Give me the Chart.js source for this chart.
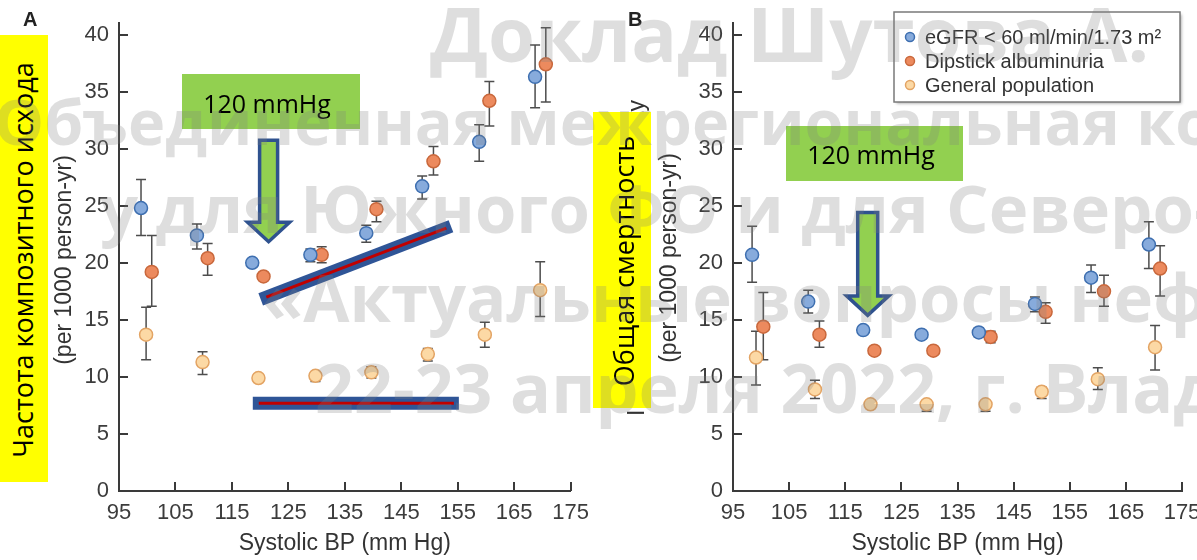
<!DOCTYPE html>
<html>
<head>
<meta charset="utf-8">
<script src="https://cdn.jsdelivr.net/npm/chart.js@4.4.0/dist/chart.umd.min.js"></script>
<style>
  body { margin: 0; background: #fff; }
  #wrap { position: relative; width: 1197px; height: 560px; overflow: hidden; background: #fff; }
  #chartA { position: absolute; left: 0; top: 0; }
  #chartB { position: absolute; left: 598px; top: 0; }
  #over { position: absolute; left: 0; top: 0; }
  .note { font-family: "Open Sans", sans-serif; fill: #000; }
  .wm text { font-family: "Open Sans", sans-serif; font-weight: 700; fill: rgba(128,128,128,0.26); }
</style>
</head>
<body>
<div id="wrap">
  <canvas id="chartA" width="598" height="560"></canvas>
  <canvas id="chartB" width="620" height="560"></canvas>
  <svg id="over" width="1197" height="560">
    <!-- жёлтые подписи осей -->
    <rect x="0" y="35" width="48" height="447" fill="#ffff00"/>
    <text class="note" font-size="27" text-anchor="middle" dominant-baseline="central"
          transform="translate(22,260) rotate(-90)">Частота композитного исхода</text>
    <rect x="593" y="112" width="58" height="296" fill="#ffff00"/>
    <text class="note" font-size="27" text-anchor="middle" dominant-baseline="central"
          transform="translate(623,261) rotate(-90)">Общая смертность</text>
    <!-- зелёные плашки -->
    <rect x="182" y="74" width="178" height="55" fill="#92d050"/>
    <text class="note" x="267" y="103" font-size="25" text-anchor="middle" dominant-baseline="central">120 mmHg</text>
    <rect x="786" y="126" width="177" height="55" fill="#92d050"/>
    <text class="note" x="871" y="154" font-size="25" text-anchor="middle" dominant-baseline="central">120 mmHg</text>
    <!-- буквы панелей -->
    <text x="23" y="26" font-family="Liberation Sans, Arial, sans-serif" font-weight="700" font-size="20" fill="#222">A</text>
    <text x="628" y="26" font-family="Liberation Sans, Arial, sans-serif" font-weight="700" font-size="20" fill="#222">B</text>
    <!-- водяной знак -->
    <g class="wm">
      <text x="430" y="62" font-size="76">Доклад Шутова А.</text>
      <text x="-6" y="145" font-size="63">Объединенная межрегиональная конференция</text>
      <text x="100" y="233" font-size="67">у для Южного ФО и для Северо-Кавказского ФО</text>
      <text x="262" y="322" font-size="67">«Актуальные вопросы нефрологии»</text>
      <text x="315" y="413" font-size="68">22-23 апреля 2022, г. Владикавказ</text>
    </g>
  </svg>
</div>
<script>
// ---------- данные ----------
const xTicks = [95, 105, 115, 125, 135, 145, 155, 165, 175];
const yTicks = [0, 5, 10, 15, 20, 25, 30, 35, 40];
const seriesNames = ["eGFR < 60 ml/min/1.73 m\u00b2", "Dipstick albuminuria", "General population"];

// A: композитный исход
const egfrA_x  = [98.9, 108.8, 118.6, 128.9, 138.8, 148.7, 158.8, 168.7];
const egfrA_y  = [24.8, 22.4, 20.0, 20.7, 22.6, 26.7, 30.6, 36.3];
const egfrA_lo = [22.4, 21.2, null, 20.1, 21.8, 25.6, 28.9, 33.6];
const egfrA_hi = [27.3, 23.4, null, 21.2, 23.3, 27.6, 32.1, 39.1];

const albA_x  = [100.8, 110.7, 120.6, 130.9, 140.6, 150.7, 160.6, 170.6];
const albA_y  = [19.2, 20.4, 18.8, 20.7, 24.7, 28.9, 34.2, 37.4];
const albA_lo = [16.2, 18.9, null, 20.0, 23.6, 27.7, 32.0, 34.1];
const albA_hi = [22.4, 21.7, null, 21.4, 25.4, 30.2, 35.9, 40.6];

const genA_x  = [99.8, 109.8, 119.7, 129.8, 139.7, 149.7, 159.8, 169.6];
const genA_y  = [13.7, 11.3, 9.9, 10.1, 10.4, 12.0, 13.7, 17.6];
const genA_lo = [11.5, 10.2, null, 9.6, 9.9, 11.4, 12.6, 15.3];
const genA_hi = [16.1, 12.2, null, 10.4, 10.9, 12.5, 14.8, 20.1];

// B: общая смертность
const egfrB_x  = [98.4, 108.4, 118.2, 128.6, 138.8, 148.8, 158.8, 169.1];
const egfrB_y  = [20.7, 16.6, 14.1, 13.7, 13.9, 16.4, 18.7, 21.6];
const egfrB_lo = [18.3, 15.6, null, null, 13.5, 15.7, 17.4, 19.5];
const egfrB_hi = [23.2, 17.6, null, null, 14.3, 17.0, 19.8, 23.6];

const albB_x  = [100.4, 110.4, 120.2, 130.7, 140.9, 150.7, 161.1, 171.1];
const albB_y  = [14.4, 13.7, 12.3, 12.3, 13.5, 15.7, 17.5, 19.5];
const albB_lo = [11.5, 12.6, null, 12.0, 13.0, 14.7, 16.2, 17.1];
const albB_hi = [17.4, 14.9, null, 12.6, 14.0, 16.5, 18.9, 21.5];

const genB_x  = [99.1, 109.6, 119.5, 129.5, 140.0, 150.0, 160.0, 170.2];
const genB_y  = [11.7, 8.9, 7.6, 7.6, 7.6, 8.7, 9.8, 12.6];
const genB_lo = [9.3, 8.1, null, 7.0, 7.0, 8.1, 8.9, 10.6];
const genB_hi = [14.0, 9.7, null, 7.6, 7.6, 9.1, 10.8, 14.5];

// ---------- стили ----------
const fills   = ["#87abdc", "#ec8a5e", "#fcd9a5"];
const strokes = ["#3e6fb0", "#c9683c", "#e3a464"];
const axisColor = "#3a3a3a";
const labelFont = "Liberation Sans, Arial, sans-serif";

function makeSet(k, xs, ys, lo, hi) {
	return {
		label: seriesNames[k],
		data: xs.map((x, i) => ({ x: x, y: ys[i] })),
		errLo: lo,
		errHi: hi,
		backgroundColor: fills[k],
		borderColor: strokes[k],
		pointRadius: 6.5,
		pointBorderWidth: 1.5,
		showLine: false,
	};
}

// усы погрешностей, рисуются под точками
const errorBars = {
	id: "errorBars",
	beforeDatasetsDraw(chart) {
		const ctx = chart.ctx, sx = chart.scales.x, sy = chart.scales.y;
		ctx.save();
		ctx.strokeStyle = "#4d4d4d";
		ctx.lineWidth = 1.5;
		chart.data.datasets.forEach(ds => {
			ds.data.forEach((p, i) => {
				const lo = ds.errLo[i], hi = ds.errHi[i];
				if (lo == null || hi == null) return;
				const px = sx.getPixelForValue(p.x);
				const y1 = sy.getPixelForValue(lo), y2 = sy.getPixelForValue(hi);
				ctx.beginPath();
				ctx.moveTo(px, y1); ctx.lineTo(px, y2);
				ctx.moveTo(px - 5, y1); ctx.lineTo(px + 5, y1);
				ctx.moveTo(px - 5, y2); ctx.lineTo(px + 5, y2);
				ctx.stroke();
			});
		});
		ctx.restore();
	}
};

// засечки внутрь области графика
const innerTicks = {
	id: "innerTicks",
	beforeDatasetsDraw(chart) {
		const ctx = chart.ctx, sx = chart.scales.x, sy = chart.scales.y, a = chart.chartArea;
		ctx.save();
		ctx.strokeStyle = axisColor;
		ctx.lineWidth = 2;
		ctx.beginPath();
		yTicks.forEach(v => {
			const py = Math.round(sy.getPixelForValue(v));
			ctx.moveTo(a.left, py); ctx.lineTo(a.left + 9, py);
		});
		xTicks.forEach(v => {
			const px = Math.round(sx.getPixelForValue(v));
			ctx.moveTo(px, a.bottom); ctx.lineTo(px, a.bottom - 9);
		});
		ctx.stroke();
		ctx.restore();
	}
};

// стрелка, полосы, подпись оси Y, легенда
function notes(cfg) {
	return {
		id: "notes",
		afterDatasetsDraw(chart) {
			const ctx = chart.ctx, sx = chart.scales.x, sy = chart.scales.y;
			ctx.save();
			// полосы тренда
			(cfg.bands || []).forEach(b => {
				const x1 = sx.getPixelForValue(b[0]), y1 = sy.getPixelForValue(b[1]);
				const x2 = sx.getPixelForValue(b[2]), y2 = sy.getPixelForValue(b[3]);
				const len = Math.hypot(x2 - x1, y2 - y1), ux = (x2 - x1) / len, uy = (y2 - y1) / len;
				ctx.lineCap = "butt";
				ctx.strokeStyle = "#2f5597";
				ctx.lineWidth = 13;
				ctx.beginPath(); ctx.moveTo(x1, y1); ctx.lineTo(x2, y2); ctx.stroke();
				ctx.strokeStyle = "#c00000";
				ctx.lineWidth = 3;
				ctx.beginPath(); ctx.moveTo(x1 + ux * 6, y1 + uy * 6); ctx.lineTo(x2 - ux * 5, y2 - uy * 5); ctx.stroke();
			});
			// стрелка вниз
			const ar = cfg.arrow;
			const cx = sx.getPixelForValue(ar.x), top = sy.getPixelForValue(ar.top);
			const neck = sy.getPixelForValue(ar.neck), tip = sy.getPixelForValue(ar.tip);
			ctx.beginPath();
			ctx.moveTo(cx - ar.sw, top); ctx.lineTo(cx + ar.sw, top); ctx.lineTo(cx + ar.sw, neck);
			ctx.lineTo(cx + 21, neck); ctx.lineTo(cx, tip); ctx.lineTo(cx - 21, neck);
			ctx.lineTo(cx - ar.sw, neck); ctx.closePath();
			ctx.fillStyle = "#92d050";
			ctx.fill();
			ctx.strokeStyle = "#2f528f";
			ctx.lineWidth = 3.5;
			ctx.lineJoin = "miter";
			ctx.stroke();
			// подпись оси Y в две строки
			ctx.fillStyle = "#333";
			ctx.font = "23px " + labelFont;
			ctx.textAlign = "center";
			ctx.textBaseline = "middle";
			cfg.yTitle.forEach((t, i) => {
				ctx.save();
				ctx.translate(cfg.yTitleX[i], cfg.yTitleY);
				ctx.rotate(-Math.PI / 2);
				ctx.fillText(t, 0, 0);
				ctx.restore();
			});
			// легенда
			if (cfg.legend) {
				const L = cfg.legend;
				ctx.shadowColor = "rgba(0,0,0,0.35)";
				ctx.shadowBlur = 3;
				ctx.shadowOffsetX = 1.5;
				ctx.shadowOffsetY = 1.5;
				ctx.fillStyle = "#fff";
				ctx.fillRect(L.x, L.y, L.w, L.h);
				ctx.shadowColor = "transparent";
				ctx.strokeStyle = "#7a7a7a";
				ctx.lineWidth = 1.5;
				ctx.strokeRect(L.x, L.y, L.w, L.h);
				ctx.font = "20px " + labelFont;
				ctx.textAlign = "left";
				chart.data.datasets.forEach((ds, i) => {
					const yy = L.y + 25 + i * 24;
					ctx.beginPath();
					ctx.arc(L.x + 16, yy, 4.5, 0, Math.PI * 2);
					ctx.fillStyle = ds.backgroundColor;
					ctx.fill();
					ctx.strokeStyle = ds.borderColor;
					ctx.lineWidth = 1.5;
					ctx.stroke();
					ctx.fillStyle = "#333";
					ctx.fillText(ds.label, L.x + 31, yy + 1);
				});
			}
			ctx.restore();
		}
	};
}

function makeChart(id, datasets, axisW, padRight, cfg) {
	return new Chart(document.getElementById(id), {
		type: "scatter",
		data: { datasets: datasets },
		options: {
			responsive: false,
			animation: false,
			devicePixelRatio: 1,
			layout: { padding: { left: 0, right: padRight, top: 13, bottom: 0 } },
			plugins: { legend: { display: false }, tooltip: { enabled: false } },
			scales: {
				x: {
					type: "linear",
					min: 95,
					max: 175,
					afterBuildTicks: s => { s.ticks = xTicks.map(v => ({ value: v })); },
					afterFit: s => { s.height = 69; },
					grid: { display: false, drawTicks: false },
					border: { display: true, color: axisColor, width: 2 },
					ticks: { padding: 9, color: "#3c3c3c", font: { family: labelFont, size: 22 } },
					title: {
						display: true,
						text: "Systolic BP (mm Hg)",
						color: "#333",
						font: { family: labelFont, size: 23 },
						padding: { top: 0, bottom: 3 },
					},
				},
				y: {
					type: "linear",
					min: 0,
					max: 41,
					afterBuildTicks: s => { s.ticks = yTicks.map(v => ({ value: v })); },
					afterFit: s => { s.width = axisW; },
					grid: { display: false, drawTicks: false },
					border: { display: true, color: axisColor, width: 2 },
					ticks: { padding: 10, color: "#3c3c3c", font: { family: labelFont, size: 22 } },
				},
			},
		},
		plugins: [errorBars, innerTicks, notes(cfg)],
	});
}

makeChart("chartA", [
	makeSet(0, egfrA_x, egfrA_y, egfrA_lo, egfrA_hi),
	makeSet(1, albA_x, albA_y, albA_lo, albA_hi),
	makeSet(2, genA_x, genA_y, genA_lo, genA_hi),
], 119, 26, {
	arrow: { x: 121.5, top: 30.75, neck: 23.55, tip: 21.85, sw: 9 },
	bands: [[120.1, 16.8, 153.8, 23.2], [118.7, 7.7, 155.2, 7.7]],
	yTitle: ["Incidence of composite outcome", "(per 1000 person-yr)"],
	yTitleX: [34, 65],
	yTitleY: 260,
});

makeChart("chartB", [
	makeSet(0, egfrB_x, egfrB_y, egfrB_lo, egfrB_hi),
	makeSet(1, albB_x, albB_y, albB_lo, albB_hi),
	makeSet(2, genB_x, genB_y, genB_lo, genB_hi),
], 135, 36, {
	arrow: { x: 119.0, top: 24.4, neck: 17.1, tip: 15.4, sw: 10 },
	bands: [],
	yTitle: ["Incidence of all-cause mortality", "(per 1000 person-yr)"],
	yTitleX: [40, 72],
	yTitleY: 258,
	legend: { x: 296, y: 12, w: 286, h: 90 },
});
</script>
</body>
</html>
